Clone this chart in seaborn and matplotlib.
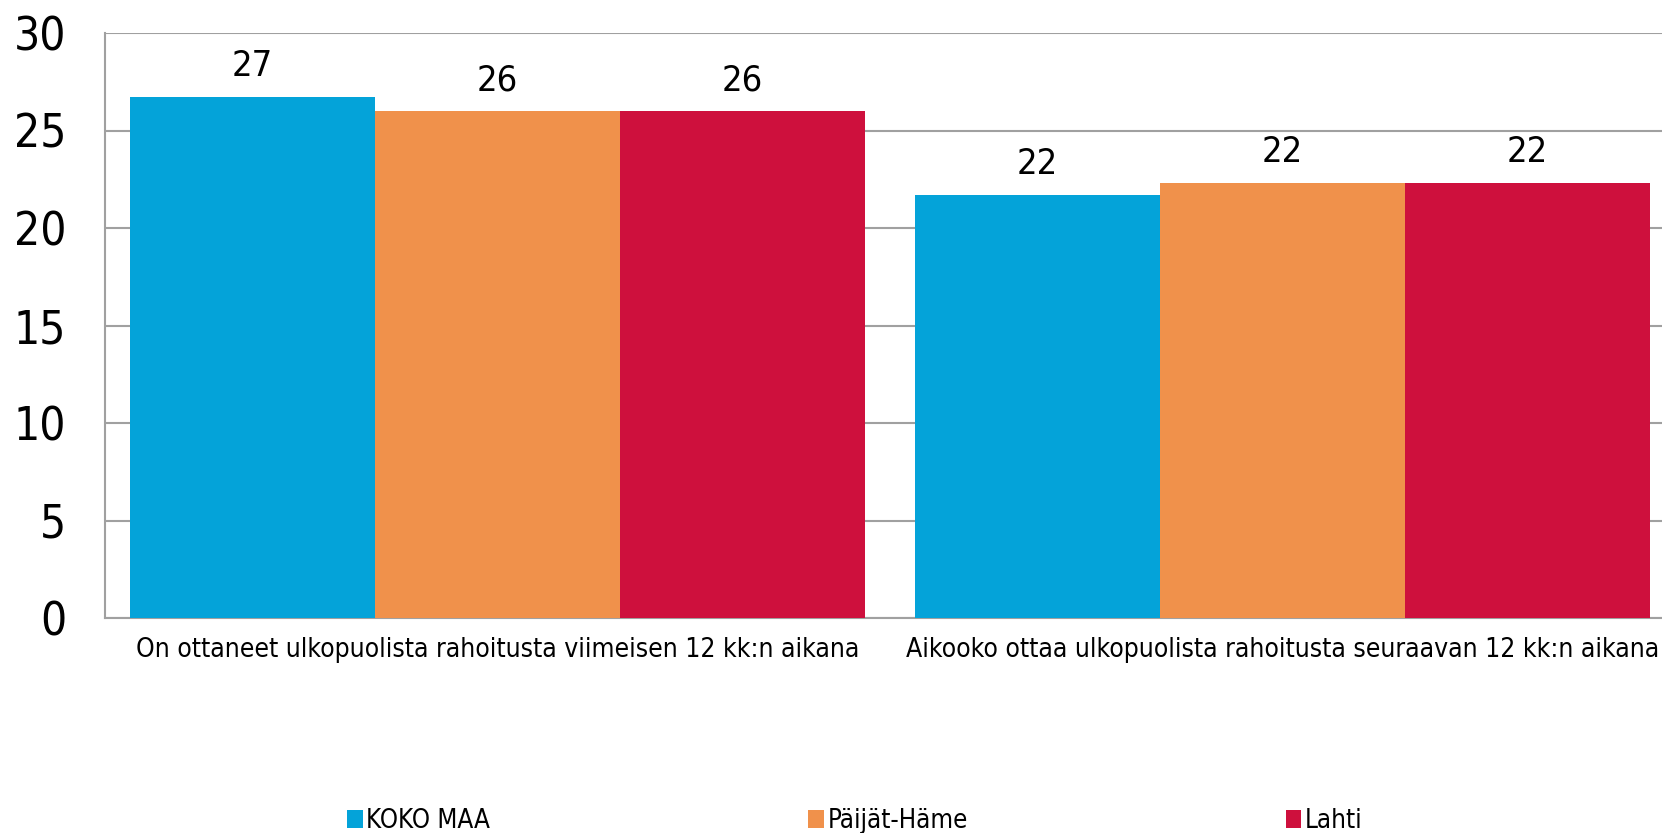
import matplotlib
matplotlib.use("Agg")
import matplotlib.pyplot as plt
import seaborn as sns
import pandas as pd
from matplotlib.patches import Patch

categories = ["On ottaneet ulkopuolista rahoitusta viimeisen 12 kk:n aikana",
              "Aikooko ottaa ulkopuolista rahoitusta seuraavan 12 kk:n aikana"]
series = ["KOKO MAA", "Päijät-Häme", "Lahti"]
koko_maa = [26.7, 21.7]
paijat_hame = [26.0, 22.3]
lahti = [26.0, 22.3]
colors = ["#04A3D9", "#F0914B", "#CE103D"]

rows = []
for s, vals in zip(series, [koko_maa, paijat_hame, lahti]):
    for c, v in zip(categories, vals):
        rows.append({"cat": c, "series": s, "value": v})
df = pd.DataFrame(rows)

sns.set_theme(style="white")
plt.rcParams['font.family'] = ['DejaVu Sans']
plt.rcParams['font.stretch'] = 'condensed'
plt.rcParams['text.color'] = 'black'

fig = plt.figure(figsize=(16.62, 8.33), dpi=100)
ax = fig.add_axes([105/1662, 1-618/833, 1570/1662, 585/833])

sns.barplot(data=df, x="cat", y="value", hue="series", order=categories,
            hue_order=series, palette=colors, width=0.937, gap=0,
            saturation=1, ax=ax, legend=False, linewidth=0, zorder=3)

ax.set_ylim(0, 30)
ax.set_yticks([0, 5, 10, 15, 20, 25, 30])
ax.yaxis.grid(True, color="#A0A0A0", linewidth=1.5, zorder=0)
ax.set_axisbelow(True)
for side in ["top", "right"]:
    ax.spines[side].set_visible(False)
for side in ["left", "bottom"]:
    ax.spines[side].set_color("#A0A0A0")
    ax.spines[side].set_linewidth(1.5)
ax.tick_params(axis="y", labelsize=33, pad=28, length=0, labelcolor="black")
ax.tick_params(axis="x", labelsize=19, pad=14, length=0, labelcolor="black")
ax.set_xlabel("")
ax.set_ylabel("")

for cont in ax.containers:
    ax.bar_label(cont, labels=[f"{v:.0f}" for v in cont.datavalues],
                 padding=10, fontsize=26, color="black")

handles = [Patch(facecolor=c, edgecolor="none") for c in colors]
fig.legend(handles, series, loc="center left", bbox_to_anchor=(347/1662, 1-821/833),
           ncol=3, frameon=False, fontsize=18.6, handlelength=0.6,
           handleheight=0.75, handletextpad=0.15, columnspacing=12.3,
           borderaxespad=0, borderpad=0, labelcolor="black")

fig.savefig("out.png", dpi=100)
